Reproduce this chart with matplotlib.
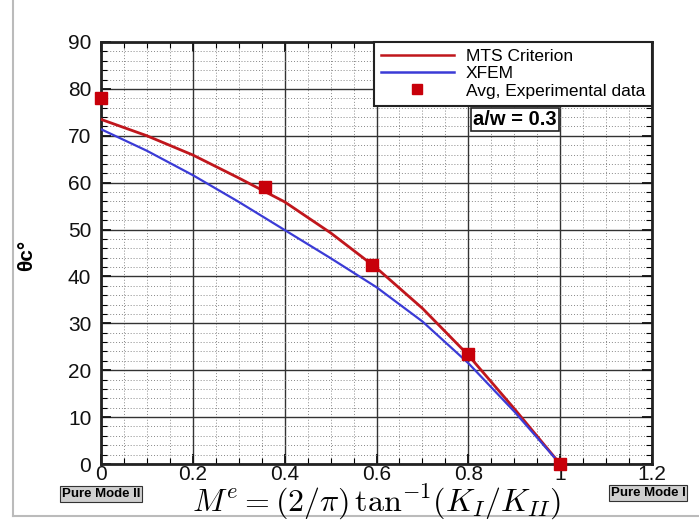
import matplotlib
matplotlib.use("Agg")
import matplotlib.pyplot as plt
from matplotlib.ticker import MultipleLocator
from matplotlib.lines import Line2D

# Data
x_curve = [0.0, 0.1, 0.2, 0.3, 0.4, 0.5, 0.6, 0.7, 0.8, 0.9, 1.0]
mts = [73.5, 70.0, 65.9, 61.0, 55.9, 49.3, 41.8, 33.2, 23.2, 11.8, 0.0]
xfem = [71.4, 66.8, 61.6, 55.9, 49.9, 43.9, 37.7, 30.4, 21.5, 11.2, 0.0]
x_exp = [0.0, 0.357, 0.59, 0.80, 1.0]
y_exp = [78.0, 59.0, 42.5, 23.5, 0.0]
labels = ["MTS Criterion", "XFEM", "Avg, Experimental data"]
xticks = [0, 0.2, 0.4, 0.6, 0.8, 1, 1.2]
xticklabels = ["0", "0.2", "0.4", "0.6", "0.8", "1", "1.2"]
yticks = [0, 10, 20, 30, 40, 50, 60, 70, 80, 90]

plt.rcParams['font.family'] = ['Liberation Sans', 'DejaVu Sans']
plt.rcParams['mathtext.fontset'] = 'cm'

W, H = 699, 521
fig = plt.figure(figsize=(W / 100, H / 100), dpi=100)
ax = fig.add_axes([101 / W, 1 - 464 / H, (652 - 101) / W, (464 - 42) / H])

ax.set_xlim(0, 1.2)
ax.set_ylim(0, 90)
ax.set_xticks(xticks)
ax.set_xticklabels(xticklabels)
ax.set_yticks(yticks)
ax.xaxis.set_minor_locator(MultipleLocator(0.05))
ax.yaxis.set_minor_locator(MultipleLocator(2))
ax.grid(which='major', color='#333333', linewidth=1.0, linestyle='-')
ax.grid(which='minor', color='#888888', linewidth=0.7, linestyle=(0, (1, 2)))
ax.set_axisbelow(True)
ax.tick_params(which='major', direction='in', length=7, width=1.3, labelsize=15,
               top=True, right=True, colors='#111111')
ax.tick_params(axis='x', which='major', pad=1.0)
ax.tick_params(axis='y', which='major', pad=7)
ax.tick_params(which='minor', direction='in', length=4, width=0.8,
               top=True, right=True)
for s in ax.spines.values():
    s.set_linewidth(2.0)
    s.set_color('#222222')

ax.plot(x_curve, mts, color='#c0161c', linewidth=2.0, zorder=3)
ax.plot(x_curve, xfem, color='#3b3bd6', linewidth=1.6, zorder=3)
ax.plot(x_exp, y_exp, linestyle='none', marker='s', markersize=8,
        color='#c8000a', zorder=4, clip_on=False)

handles = [Line2D([], [], color='#c0161c', linewidth=1.8),
           Line2D([], [], color='#3b3bd6', linewidth=1.8),
           Line2D([], [], linestyle='none', marker='s', markersize=7, color='#c8000a')]
leg = ax.legend(handles, labels, loc='upper right', bbox_to_anchor=(1.0, 1.0),
                fontsize=12.5, frameon=True, fancybox=False, framealpha=1,
                edgecolor='#222222', borderpad=0.4, handlelength=4.2,
                labelspacing=0.12, handletextpad=0.7, borderaxespad=0.0)
leg.get_frame().set_linewidth(1.5)
leg.set_zorder(5)

ax.text(0.675, 0.8175, "a/w = 0.3", transform=ax.transAxes,
        fontsize=14.5, fontweight='bold', ha='left', va='center', zorder=5,
        bbox=dict(boxstyle='square,pad=0.1', facecolor='white',
                  edgecolor='#222222', linewidth=1.2))

fig.text(27 / W, 1 - 255 / H, "θc°", rotation=90, fontsize=15, fontweight='bold',
         ha='center', va='center')

fig.text(376 / W, 1 - 511 / H, r"$M^e = (2/\pi)\,\tan^{-1}\!(K_I/K_{II})$",
         fontsize=23, ha='center', va='baseline')

pm_style = dict(fontsize=9.5, fontweight='bold', ha='center', va='center',
                family=['Liberation Sans Narrow', 'Liberation Sans', 'DejaVu Sans'],
                bbox=dict(boxstyle='square,pad=0.12', facecolor='#cfcfcf',
                          edgecolor='#333333', linewidth=0.8))
fig.text(101 / W, 1 - 494 / H, "Pure Mode II", **pm_style)
fig.text(648 / W, 1 - 493 / H, "Pure Mode I", **pm_style)

# light L-shaped frame
fig.add_artist(Line2D([12.5 / W, 12.5 / W], [1 - 516 / H, 1.0], color='#bbbbbb',
                      linewidth=1.5, transform=fig.transFigure))
fig.add_artist(Line2D([12.5 / W, 1.0], [1 - 516 / H, 1 - 516 / H], color='#bbbbbb',
                      linewidth=1.5, transform=fig.transFigure))

fig.savefig("out.png", dpi=100)
